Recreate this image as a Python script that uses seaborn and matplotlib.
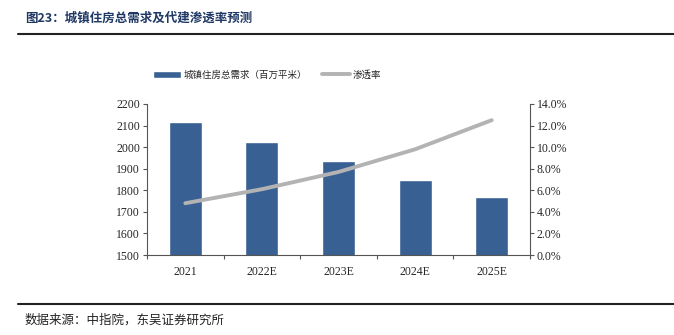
import matplotlib
matplotlib.use("Agg")
import matplotlib.pyplot as plt
import seaborn as sns
import pandas as pd
import numpy as np
from matplotlib.ticker import FuncFormatter, FixedLocator

categories = ["2021", "2022E", "2023E", "2024E", "2025E"]
demand = [2118, 2025, 1935, 1850, 1770]
penetration = [4.8, 6.1, 7.7, 9.8, 12.5]
left_ticks = [1500, 1600, 1700, 1800, 1900, 2000, 2100, 2200]
right_ticks = [0, 2, 4, 6, 8, 10, 12, 14]
title = "图23：城镇住房总需求及代建渗透率预测"
source = "数据来源：中指院，东吴证券研究所"
bar_label = "城镇住房总需求（百万平米）"
line_label = "渗透率"

sns.set_theme(style="white")
plt.rcParams['font.family'] = ['Liberation Serif', 'Noto Sans CJK SC', 'DejaVu Sans']

cjk = ['Noto Sans CJK SC', 'DejaVu Sans']
bar_color = "#386092"
line_color = "#b3b3b3"

fig = plt.figure(figsize=(6.74, 3.35), dpi=100)
ax = fig.add_axes([147/674, 1 - 255/335, (530-147)/674, (255-104)/335])

df = pd.DataFrame({"cat": categories, "demand": demand, "pen": penetration})
sns.barplot(data=df, x="cat", y="demand", color=bar_color, width=0.43, ax=ax,
            saturation=1, bottom=0)
ax.set_ylim(1500, 2200)
ax.set_xlim(-0.5, 4.5)
ax.yaxis.set_major_locator(FixedLocator(left_ticks))
ax.set_xlabel("")
ax.set_ylabel("")
for s in ["top", "right"]:
    ax.spines[s].set_visible(False)
for s in ["left", "bottom"]:
    ax.spines[s].set_color("#555555")
    ax.spines[s].set_linewidth(0.8)
ax.tick_params(axis="y", which="major", direction="out", length=3, width=0.8,
               color="#555555", labelsize=8.5, pad=2, left=True)
ax.tick_params(axis="x", which="major", length=0, labelsize=8.5, pad=8)
ax.set_xticks(np.arange(-0.5, 5, 1), minor=True)
ax.tick_params(axis="x", which="minor", direction="out", length=3, width=0.8,
               color="#555555", bottom=True)

ax2 = ax.twinx()
sns.lineplot(data=df, x="cat", y="pen", color=line_color, linewidth=2.8, ax=ax2,
             sort=False)
ax2.set_ylim(0, 14)
ax2.yaxis.set_major_locator(FixedLocator(right_ticks))
ax2.yaxis.set_major_formatter(FuncFormatter(lambda v, p: f"{v:.1f}%"))
ax2.set_ylabel("")
for s in ["top", "left", "bottom"]:
    ax2.spines[s].set_visible(False)
ax2.spines["right"].set_color("#555555")
ax2.spines["right"].set_linewidth(0.8)
ax2.tick_params(axis="y", direction="out", length=3, width=0.8, color="#555555",
                labelsize=8.5, pad=2, right=True)
ax2.grid(False)
ax.grid(False)

# legend
from matplotlib.patches import Patch
from matplotlib.lines import Line2D
handles = [Patch(facecolor=bar_color, label=bar_label),
           Line2D([0], [0], color=line_color, lw=2.8, label=line_label)]
leg = fig.legend(handles=handles, loc="center", bbox_to_anchor=(267/674, 1 - 75/335),
                 ncol=2, frameon=False, prop={'family': cjk, 'size': 6.8},
                 handlelength=3.0, handleheight=0.8, columnspacing=1.5, handletextpad=0.3)

# title and rules
fig.text(25/674, 1 - 18/335, title, fontsize=9, fontweight="bold", color="#1f3864",
         family=cjk, va="center", ha="left")
fig.add_artist(Line2D([18/674, 1.0], [1 - 34/335, 1 - 34/335], color="#222222", lw=1.5))
fig.add_artist(Line2D([18/674, 1.0], [1 - 304/335, 1 - 304/335], color="#222222", lw=1.5))
fig.text(25/674, 1 - 320/335, source, fontsize=9, color="#222222",
         family=cjk, va="center", ha="left")

fig.savefig("out.png", dpi=100)
